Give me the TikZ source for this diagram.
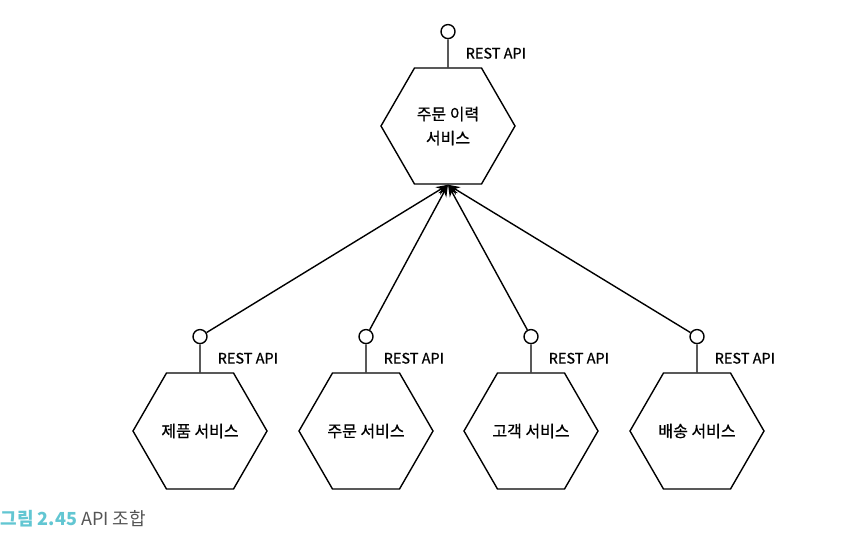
\documentclass[tikz,border=0pt]{standalone}
\usepackage{fontspec}
\setmainfont{Noto Sans CJK KR}
\newfontfamily\medfont[FakeBold=0.6]{Noto Sans CJK KR}
\usetikzlibrary{arrows,arrows.meta,shapes,positioning}
\definecolor{figteal}{HTML}{62C6D2}
\definecolor{capgray}{HTML}{555555}

\begin{document}
\begin{tikzpicture}[x=1pt,y=-1pt,
  svc/.style={draw, regular polygon, regular polygon sides=6,
    minimum size=134pt, inner sep=0pt, align=center, font=\medfont\fontsize{16}{24}\selectfont},
  port/.style={draw, circle, minimum size=14pt, inner sep=0pt, fill=white},
  apilbl/.style={inner sep=0pt, font=\medfont\fontsize{14.5}{16}\selectfont}]
\useasboundingbox (0,0) rectangle (847,547);
\tikzstyle{every path}=[line width=1.4pt]

% composer on top
\node[svc] (hist) at (448,126) {주문 이력\\서비스};
\node[port, above=28pt of hist] (histapi) {};
\draw (histapi) -- (hist) node[midway, apilbl, right=17pt] {REST API};

% composed services
\node[svc] (prod) at (200,431) {제품 서비스};
\node[svc] (order) at (366,431) {주문 서비스};
\node[svc] (cust) at (531,431) {고객 서비스};
\node[svc] (ship) at (697,431) {배송 서비스};

\foreach \s in {prod,order,cust,ship} {
  \node[port, above=28pt of \s] (\s api) {};
  \draw (\s api) -- (\s) node[midway, apilbl, right=17pt] {REST API};
  \draw[-{Stealth[length=12pt,width=9pt]}] (\s api) -- (hist.south);
}

\node[anchor=west, inner sep=0pt, font=\fontsize{18}{20}\selectfont] (cap) at (0,519)
  {\textcolor{figteal}{\bfseries 그림 2.45} \textcolor{capgray}{API 조합}};
\end{tikzpicture}
\end{document}
